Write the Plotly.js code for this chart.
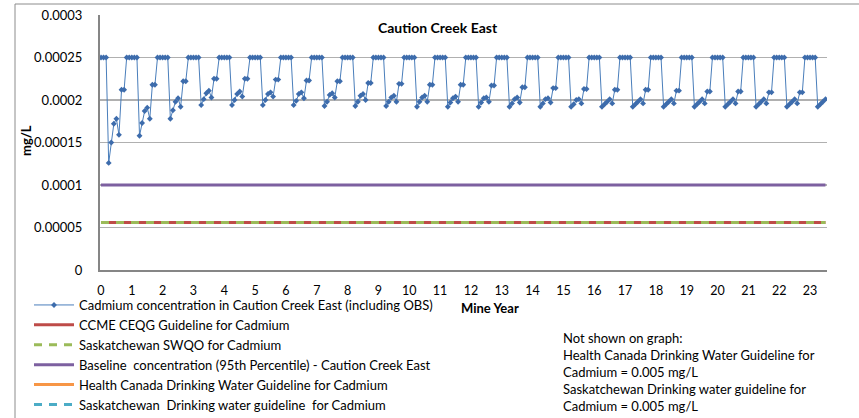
<!DOCTYPE html>
<html>
<head>
<meta charset="utf-8">
<script src="https://cdn.plot.ly/plotly-3.0.1.min.js"></script>
<style>
html,body{margin:0;padding:0;background:#fff;}
#chart{width:859px;height:418px;}
</style>
</head>
<body>
<div id="chart"></div>
<script>
// Cadmium concentration (mg/L), one value per month, month 0 = start of Mine Year 0
const cadmium = [
  // year 0
  0.00025, 0.00025, 0.00025, 0.000126, 0.000150, 0.000172, 0.000178, 0.000159, 0.000212, 0.000212, 0.00025, 0.00025,
  // year 1
  0.00025, 0.00025, 0.00025, 0.000158, 0.000173, 0.000187, 0.000191, 0.000178, 0.000218, 0.000218, 0.00025, 0.00025,
  // year 2
  0.00025, 0.00025, 0.00025, 0.000178, 0.000188, 0.000198, 0.000202, 0.000192, 0.000222, 0.000222, 0.00025, 0.00025,
  // year 3
  0.00025, 0.00025, 0.00025, 0.000194, 0.000201, 0.000208, 0.000211, 0.000203, 0.000225, 0.000225, 0.00025, 0.00025,
  // year 4
  0.00025, 0.00025, 0.00025, 0.000194, 0.000200, 0.000207, 0.000210, 0.000204, 0.000225, 0.000225, 0.00025, 0.00025,
  // year 5
  0.00025, 0.00025, 0.00025, 0.000194, 0.000200, 0.000207, 0.000209, 0.000204, 0.000224, 0.000224, 0.00025, 0.00025,
  // year 6
  0.00025, 0.00025, 0.00025, 0.000194, 0.000199, 0.000207, 0.000209, 0.000202, 0.000223, 0.000223, 0.00025, 0.00025,
  // year 7
  0.00025, 0.00025, 0.00025, 0.000193, 0.000198, 0.000206, 0.000208, 0.000203, 0.000222, 0.000222, 0.00025, 0.00025,
  // year 8
  0.00025, 0.00025, 0.00025, 0.000193, 0.000198, 0.000205, 0.000207, 0.000200, 0.000220, 0.000220, 0.00025, 0.00025,
  // year 9
  0.00025, 0.00025, 0.00025, 0.000193, 0.000198, 0.000203, 0.000205, 0.000198, 0.000219, 0.000219, 0.00025, 0.00025,
  // year 10
  0.00025, 0.00025, 0.00025, 0.000192, 0.000198, 0.000203, 0.000205, 0.000198, 0.000218, 0.000218, 0.00025, 0.00025,
  // year 11
  0.00025, 0.00025, 0.00025, 0.000192, 0.000197, 0.000202, 0.000204, 0.000198, 0.000218, 0.000218, 0.00025, 0.00025,
  // year 12
  0.00025, 0.00025, 0.00025, 0.000192, 0.000197, 0.000202, 0.000203, 0.000198, 0.000217, 0.000217, 0.00025, 0.00025,
  // year 13
  0.00025, 0.00025, 0.00025, 0.000192, 0.000196, 0.000201, 0.000203, 0.000197, 0.000215, 0.000215, 0.00025, 0.00025,
  // year 14
  0.00025, 0.00025, 0.00025, 0.000192, 0.000196, 0.000201, 0.000202, 0.000197, 0.000214, 0.000214, 0.00025, 0.00025,
  // year 15
  0.00025, 0.00025, 0.00025, 0.000192, 0.000195, 0.000200, 0.000201, 0.000196, 0.000213, 0.000213, 0.00025, 0.00025,
  // year 16
  0.00025, 0.00025, 0.00025, 0.000192, 0.000195, 0.000198, 0.000201, 0.000196, 0.000212, 0.000212, 0.00025, 0.00025,
  // year 17
  0.00025, 0.00025, 0.00025, 0.000192, 0.000195, 0.000198, 0.000201, 0.000196, 0.000212, 0.000212, 0.00025, 0.00025,
  // year 18
  0.00025, 0.00025, 0.00025, 0.000192, 0.000195, 0.000198, 0.000201, 0.000196, 0.000211, 0.000211, 0.00025, 0.00025,
  // year 19
  0.00025, 0.00025, 0.00025, 0.000192, 0.000195, 0.000198, 0.000201, 0.000196, 0.000210, 0.000210, 0.00025, 0.00025,
  // year 20
  0.00025, 0.00025, 0.00025, 0.000192, 0.000195, 0.000198, 0.000201, 0.000196, 0.000210, 0.000210, 0.00025, 0.00025,
  // year 21
  0.00025, 0.00025, 0.00025, 0.000192, 0.000195, 0.000198, 0.000201, 0.000196, 0.000209, 0.000209, 0.00025, 0.00025,
  // year 22
  0.00025, 0.00025, 0.00025, 0.000192, 0.000195, 0.000198, 0.000201, 0.000196, 0.000209, 0.000209, 0.00025, 0.00025,
  // year 23
  0.00025, 0.00025, 0.00025, 0.000192, 0.000195, 0.000198, 0.000201
];
// Mine Year of each monthly value
const mineYear = cadmium.map((v, i) => i / 12);

// Guideline / reference values (mg/L)
const ccmeCeqg = 0.000056;
const saskSwqo = 0.000056;
const baseline95 = 0.0001;
const healthCanadaDW = 0.005;
const saskDW = 0.005;

const seriesNames = [
  'Cadmium concentration in Caution Creek East (including OBS)',
  'CCME CEQG Guideline for Cadmium',
  'Saskatchewan SWQO for Cadmium',
  'Baseline  concentration (95th Percentile) - Caution Creek East',
  'Health Canada Drinking Water Guideline for Cadmium',
  'Saskatchewan  Drinking water guideline  for Cadmium'
];

const xTickVals = [0,1,2,3,4,5,6,7,8,9,10,11,12,13,14,15,16,17,18,19,20,21,22,23];
const yTickVals = [0, 0.00005, 0.0001, 0.00015, 0.0002, 0.00025, 0.0003];
const yTickText = ['0', '0.00005', '0.0001', '0.00015', '0.0002', '0.00025', '0.0003'];

const noteLines = [
  'Not shown on graph:',
  'Health Canada Drinking Water Guideline for',
  'Cadmium = 0.005 mg/L',
  'Saskatchewan Drinking water guideline for',
  'Cadmium = 0.005 mg/L'
];

const FONT = 'Lato, "Open Sans", sans-serif';
const xEnds = [mineYear[0], mineYear[mineYear.length - 1]];
const flat = v => xEnds.map(() => v);

const traces = [
  {x: mineYear, y: cadmium, name: seriesNames[0], type: 'scatter', mode: 'lines+markers',
   line: {color: '#4A7EBB', width: 1}, marker: {symbol: 'diamond', size: 4.5, color: '#3D6CAC'}},
  {x: xEnds, y: flat(ccmeCeqg), name: seriesNames[1], type: 'scatter', mode: 'lines',
   line: {color: '#BE4B48', width: 3}},
  {x: xEnds, y: flat(saskSwqo), name: seriesNames[2], type: 'scatter', mode: 'lines',
   line: {color: '#9BBB59', width: 3, dash: '8px,7px'}},
  {x: xEnds, y: flat(baseline95), name: seriesNames[3], type: 'scatter', mode: 'lines',
   line: {color: '#7D60A0', width: 3}},
  {x: xEnds, y: flat(healthCanadaDW), name: seriesNames[4], type: 'scatter', mode: 'lines',
   line: {color: '#F79646', width: 3}},
  {x: xEnds, y: flat(saskDW), name: seriesNames[5], type: 'scatter', mode: 'lines',
   line: {color: '#4BACC6', width: 3, dash: '8px,7px'}}
];

const L = 100, R = 827, T = 15, B = 270;
const px2x = p => (p - L) / (R - L);
const px2y = p => (B - p) / (B - T);

const layout = {
  width: 859, height: 418,
  margin: {l: L, r: 859 - R, t: T, b: 418 - B, autoexpand: false},
  paper_bgcolor: '#ffffff', plot_bgcolor: '#ffffff',
  font: {family: FONT, size: 13, color: '#000000'},
  showlegend: true,
  legend: {x: px2x(29), y: px2y(290), xanchor: 'left', yanchor: 'top',
           bgcolor: 'rgba(0,0,0,0)', font: {family: FONT, size: 13, color: '#000'},
           tracegroupgap: 0, itemwidth: 40, traceorder: 'normal'},
  xaxis: {range: [-0.032, 23.55], tickmode: 'array', tickvals: xTickVals,
          showgrid: false, zeroline: false, showline: true, linecolor: '#868686', linewidth: 2,
          ticks: '', ticklabelstandoff: 8, tickfont: {family: FONT, size: 12.5}, fixedrange: true},
  yaxis: {range: [0, 0.0003], tickmode: 'array', tickvals: yTickVals, ticktext: yTickText,
          showgrid: true, gridcolor: '#B0B0B0', gridwidth: 1.5, zeroline: false,
          showline: true, linecolor: '#868686', linewidth: 2,
          ticks: '', ticklabelstandoff: 13, tickfont: {family: FONT, size: 13}, fixedrange: true},
  shapes: [
    {type: 'line', xref: 'paper', yref: 'paper', x0: px2x(15), x1: px2x(15), y0: px2y(4), y1: px2y(430),
     line: {color: '#8C8C8C', width: 1}},
    {type: 'line', xref: 'paper', yref: 'paper', x0: px2x(15), x1: px2x(870), y0: px2y(4), y1: px2y(4),
     line: {color: '#8C8C8C', width: 1}}
  ],
  annotations: [
    {text: '<b>Caution Creek East</b>', xref: 'paper', yref: 'paper', x: px2x(438), y: px2y(27),
     xanchor: 'center', yanchor: 'middle', showarrow: false, bgcolor: '#ffffff', borderpad: 6,
     font: {family: FONT, size: 14, color: '#000'}},
    {text: '<b>mg/L</b>', xref: 'paper', yref: 'paper', x: px2x(26), y: px2y(141),
     xanchor: 'center', yanchor: 'middle', textangle: -90, showarrow: false,
     font: {family: FONT, size: 13, color: '#000'}},
    {text: '<b>Mine Year</b>', xref: 'paper', yref: 'paper', x: px2x(490), y: px2y(308),
     xanchor: 'center', yanchor: 'middle', showarrow: false,
     font: {family: FONT, size: 13, color: '#000'}},
    {text: noteLines.join('<br>'), xref: 'paper', yref: 'paper', x: px2x(561), y: px2y(328),
     xanchor: 'left', yanchor: 'top', align: 'left', showarrow: false,
     font: {family: FONT, size: 13, color: '#000'}}
  ]
};

Plotly.newPlot('chart', traces, layout, {displayModeBar: false, staticPlot: true});
</script>
</body>
</html>
